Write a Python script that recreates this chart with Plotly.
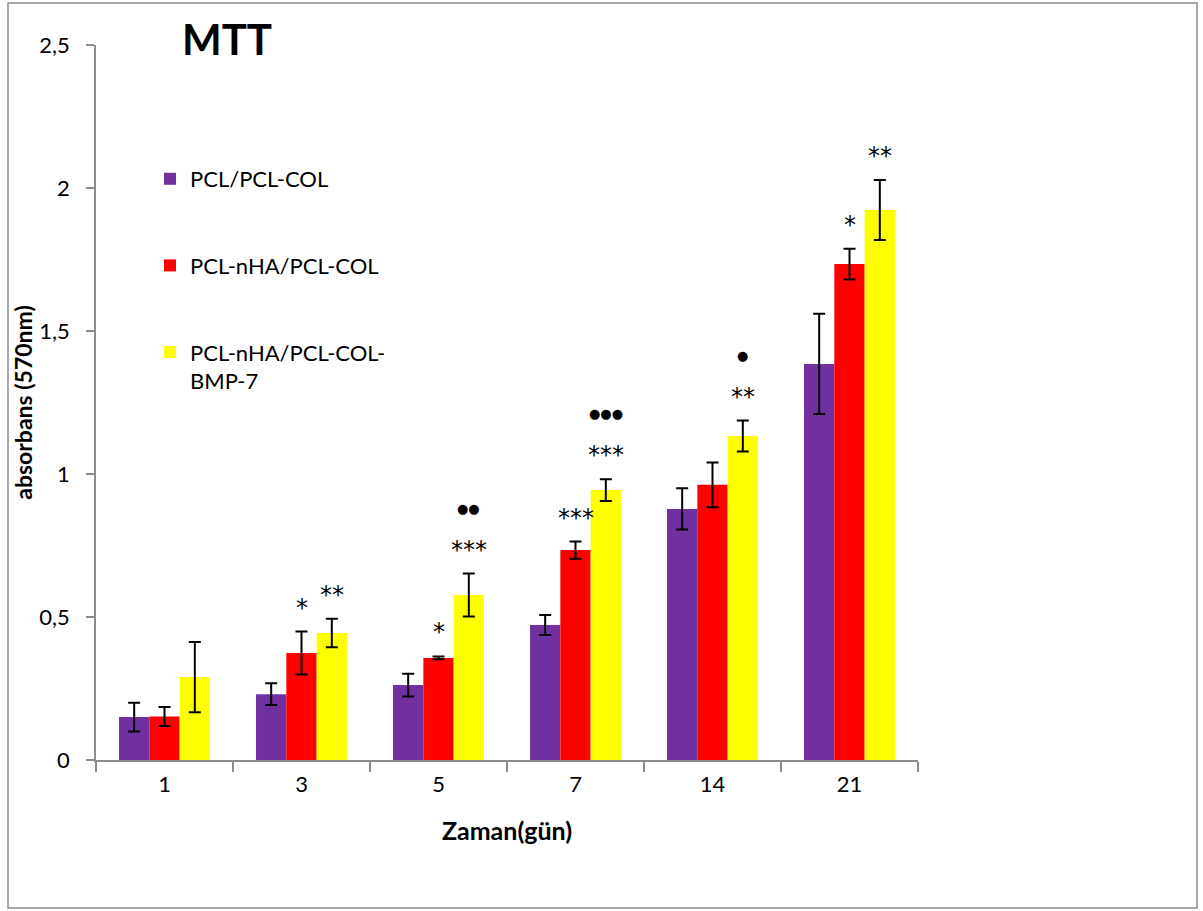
import plotly.graph_objects as go

days = ["1", "3", "5", "7", "14", "21"]
series_names = ["PCL/PCL-COL", "PCL-nHA/PCL-COL", "PCL-nHA/PCL-COL-<br>BMP-7"]
colors = ["#7030A0", "#FF0000", "#FFFF00"]

pcl_col = [0.15, 0.23, 0.262, 0.472, 0.878, 1.385]
pcl_col_err = [0.05, 0.038, 0.04, 0.035, 0.072, 0.175]
pcl_nha = [0.152, 0.374, 0.357, 0.734, 0.962, 1.734]
pcl_nha_err = [0.033, 0.075, 0.005, 0.03, 0.078, 0.054]
pcl_bmp = [0.29, 0.444, 0.577, 0.944, 1.133, 1.923]
pcl_bmp_err = [0.123, 0.05, 0.075, 0.038, 0.054, 0.105]

sig_red = ["", "*", "*", "***", "", "*"]
sig_yellow = ["", "**", "***", "***", "**", "**"]
dots_yellow = ["", "", "●●", "●●●", "●", ""]

values = [pcl_col, pcl_nha, pcl_bmp]
errors = [pcl_col_err, pcl_nha_err, pcl_bmp_err]

FONT = "Lato"
SYM = "DejaVu Sans"
bargap = 0.336
barw = (1 - bargap) / 3

fig = go.Figure()
for i in range(3):
    fig.add_trace(go.Bar(
        x=days, y=values[i], name=series_names[i],
        marker=dict(color=colors[i], line=dict(width=0)),
        error_y=dict(type="data", array=errors[i], color="black", thickness=2, width=6),
        legendgroup=f"g{i}",
    ))

ann = []
for k in range(len(days)):
    for j, sig in ((1, sig_red), (2, sig_yellow)):
        top = values[j][k] + errors[j][k]
        if sig[k]:
            ann.append(dict(x=k + (j - 1) * barw, y=top, xref="x", yref="y",
                            text=sig[k], showarrow=False, yanchor="bottom",
                            yshift=8, font=dict(size=24, color="black", family=SYM)))
    if dots_yellow[k]:
        top = values[2][k] + errors[2][k]
        ann.append(dict(x=k + barw, y=top, xref="x", yref="y",
                        text=dots_yellow[k], showarrow=False, yanchor="bottom",
                        yshift=56, font=dict(size=13, color="black", family=SYM)))

fig.update_layout(
    width=1203, height=911,
    margin=dict(l=96, r=285, t=45, b=151),
    paper_bgcolor="white", plot_bgcolor="white",
    barmode="group", bargap=bargap, bargroupgap=0,
    separators=",.",
    font=dict(family=FONT, size=22, color="black"),
    title=dict(text="<b>MTT</b>", x=227 / 1203, xanchor="center", y=1 - 40 / 911,
               yanchor="middle", font=dict(size=42, family=FONT, color="black")),
    legend=dict(x=(150 - 96) / 822, y=(760 - 158) / 715, xanchor="left", yanchor="top",
                traceorder="grouped", tracegroupgap=55, valign="top",
                font=dict(size=22, family=FONT), bgcolor="rgba(0,0,0,0)"),
    xaxis=dict(title=dict(text="<b>Zaman(gün)</b>", font=dict(size=25), standoff=26),
               type="category", showline=True, linecolor="#8c8c8c", linewidth=1.5,
               ticks="outside", tickson="boundaries", ticklen=10, tickcolor="#8c8c8c",
               tickwidth=1.5, showgrid=False, ticklabelstandoff=4),
    yaxis=dict(title=dict(text="<b>absorbans (570nm)</b>", font=dict(size=23), standoff=0),
               range=[0, 2.5], tickvals=[0, 0.5, 1, 1.5, 2, 2.5],
               showline=True, linecolor="#8c8c8c", linewidth=1.5,
               ticks="outside", ticklen=8, tickcolor="#8c8c8c", tickwidth=1.5,
               showgrid=False, zeroline=False, ticklabelstandoff=12),
    annotations=ann,
    shapes=[dict(type="rect", xref="paper", yref="paper",
                 x0=(8 - 96) / 822, x1=(1197 - 96) / 822,
                 y0=(760 - 908) / 715, y1=(760 - 3) / 715,
                 line=dict(color="#8c8c8c", width=1.5), fillcolor="rgba(0,0,0,0)", layer="below")],
)

fig.write_html("out.html")
